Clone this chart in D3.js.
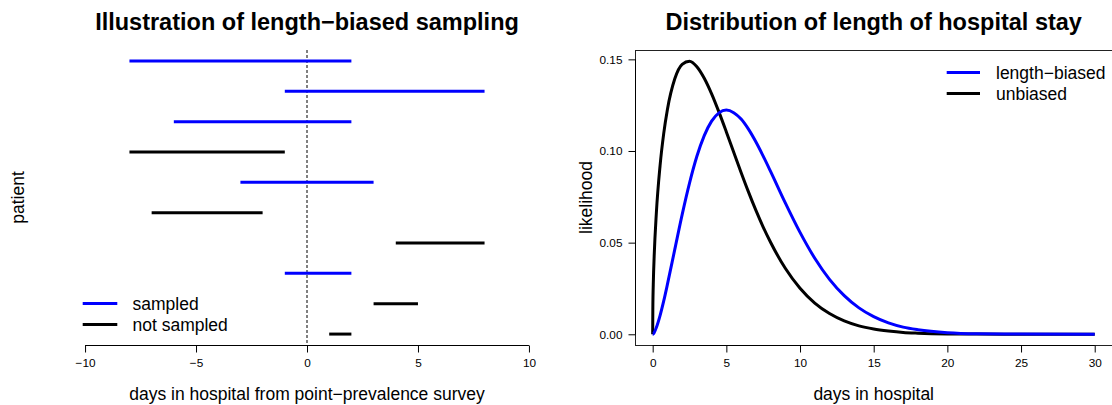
<!DOCTYPE html>
<html>
<head>
<meta charset="utf-8">
<script src="https://cdn.jsdelivr.net/npm/d3@7/dist/d3.min.js"></script>
<style>
  html, body { margin: 0; padding: 0; background: #fff; }
  svg { display: block; font-family: "Liberation Sans", Arial, Helvetica, sans-serif; }
</style>
</head>
<body>
<svg id="chart" width="1112" height="405"></svg>
<script>
// ---------- Left panel data ----------
const patients = [1, 2, 3, 4, 5, 6, 7, 8, 9, 10];
const stayStart = [-8, -1, -6, -8, -3, -7, 4, -1, 3, 1];
const stayEnd   = [ 2,  8,  2, -1,  3, -2, 8,  2, 5, 2];
const sampled   = [true, true, true, false, true, false, false, true, false, false];
const leftTicks = [-10, -5, 0, 5, 10];
const leftLegend = ["sampled", "not sampled"];

// ---------- Right panel data ----------
const days = [0, 0.01, 0.05, 0.1, 0.25, 0.5, 0.75, 1, 1.5, 2, 2.5, 3, 3.5, 4, 4.5, 5, 5.5, 6, 6.5, 7, 7.5, 8, 9, 10, 11, 12, 13, 14, 15, 16, 17, 18, 20, 22, 25, 30];
const unbiased = [0, 0.0134, 0.0300, 0.0423, 0.0663, 0.0919, 0.1096, 0.1227, 0.1394, 0.1473, 0.1490, 0.1460, 0.1397, 0.1312, 0.1212, 0.1104, 0.0993, 0.0883, 0.0777, 0.0677, 0.0585, 0.0502, 0.0360, 0.0251, 0.0170, 0.0113, 0.0073, 0.0046, 0.0029, 0.0018, 0.0010, 0.0006, 0.0002, 0.0001, 0.0000, 0.0000];
const lengthBiased = [0, 0.0000, 0.0003, 0.0009, 0.0037, 0.0102, 0.0182, 0.0272, 0.0463, 0.0653, 0.0825, 0.0971, 0.1084, 0.1163, 0.1208, 0.1223, 0.1209, 0.1174, 0.1119, 0.1050, 0.0972, 0.0889, 0.0717, 0.0556, 0.0415, 0.0300, 0.0211, 0.0144, 0.0096, 0.0062, 0.0039, 0.0025, 0.0009, 0.0003, 0.0001, 0.0000];
const rightXTicks = [0, 5, 10, 15, 20, 25, 30];
const rightYTicks = [0, 0.05, 0.10, 0.15];
const rightLegend = ["length\u2212biased", "unbiased"];

const BLUE = "#0000ff", BLACK = "#000000";
const svg = d3.select("#chart");
const fmtMinus = d => String(d).replace("-", "\u2212");

// ================= LEFT PANEL =================
const Lx = d3.scaleLinear().domain([-10.8, 10.8]).range([67.3, 546.7]);
const Ly = d3.scaleLinear().domain([0.64, 10.36]).range([50, 345]);
const left = svg.append("g");

left.append("text").attr("x", 307).attr("y", 30).attr("text-anchor", "middle")
  .attr("font-size", 23.5).attr("font-weight", "bold")
  .text("Illustration of length\u2212biased sampling");

// dashed line at 0
left.append("line")
  .attr("x1", Lx(0)).attr("x2", Lx(0)).attr("y1", 50).attr("y2", 345)
  .attr("stroke", "#000").attr("stroke-width", 1).attr("stroke-dasharray", "3,2");

left.selectAll("line.seg").data(patients).enter().append("line")
  .attr("class", "seg")
  .attr("x1", (d, i) => Lx(stayStart[i])).attr("x2", (d, i) => Lx(stayEnd[i]))
  .attr("y1", d => Ly(d)).attr("y2", d => Ly(d))
  .attr("stroke", (d, i) => sampled[i] ? BLUE : BLACK).attr("stroke-width", 3);

// x axis
const lAxis = left.append("g").attr("transform", "translate(0,345.5)")
  .call(d3.axisBottom(Lx).tickValues(leftTicks).tickSize(7).tickPadding(6).tickFormat(fmtMinus));
lAxis.select(".domain").attr("d", `M${Lx(-10)},0H${Lx(10)}`).attr("stroke", "#000");
lAxis.selectAll(".tick line").attr("stroke", "#000");
lAxis.selectAll("text").attr("font-size", 11.8).attr("fill", "#000")
  .attr("font-family", "Liberation Sans, Arial, sans-serif");

left.append("text").attr("x", 307).attr("y", 400).attr("text-anchor", "middle")
  .attr("font-size", 17.5).text("days in hospital from point\u2212prevalence survey");
left.append("text").attr("transform", "translate(23.8,197.5) rotate(-90)")
  .attr("text-anchor", "middle").attr("font-size", 17.5).text("patient");

// left legend
const lLeg = left.selectAll("g.lleg").data(leftLegend).enter().append("g")
  .attr("transform", (d, i) => `translate(0,${303.5 + i * 21})`);
lLeg.append("line").attr("x1", 82.7).attr("x2", 117.3).attr("y1", 0).attr("y2", 0)
  .attr("stroke", (d, i) => i === 0 ? BLUE : BLACK).attr("stroke-width", 3);
lLeg.append("text").attr("x", 132.5).attr("y", 0).attr("dy", "0.35em")
  .attr("font-size", 17.5).text(d => d);

// ================= RIGHT PANEL =================
const Rx = d3.scaleLinear().domain([-1.2, 31.2]).range([635, 1112.4]);
const Ry = d3.scaleLinear().domain([-0.00584, 0.1551]).range([345, 50]);
const right = svg.append("g");

right.append("text").attr("x", 873.7).attr("y", 30).attr("text-anchor", "middle")
  .attr("font-size", 23.5).attr("font-weight", "bold")
  .text("Distribution of length of hospital stay");

const line = d3.line().x(d => Rx(d[0])).y(d => Ry(d[1])).curve(d3.curveMonotoneX);
right.append("path").datum(days.map((d, i) => [d, unbiased[i]]))
  .attr("d", line).attr("fill", "none").attr("stroke", BLACK).attr("stroke-width", 3);
right.append("path").datum(days.map((d, i) => [d, lengthBiased[i]]))
  .attr("d", line).attr("fill", "none").attr("stroke", BLUE).attr("stroke-width", 3);

// box
right.append("rect").attr("x", 635.5).attr("y", 50.5).attr("width", 477).attr("height", 295)
  .attr("fill", "none").attr("stroke", "#222").attr("stroke-width", 1);

const rxAxis = right.append("g").attr("transform", "translate(0,345.5)")
  .call(d3.axisBottom(Rx).tickValues(rightXTicks).tickSize(7).tickPadding(6));
rxAxis.select(".domain").attr("d", `M${Rx(0)},0H${Rx(30)}`).attr("stroke", "#000");
rxAxis.selectAll("text").attr("font-size", 11.8).attr("fill", "#000")
  .attr("font-family", "Liberation Sans, Arial, sans-serif");

const ryAxis = right.append("g").attr("transform", "translate(635.5,0)")
  .call(d3.axisLeft(Ry).tickValues(rightYTicks).tickSize(7).tickPadding(6).tickFormat(d3.format(".2f")));
ryAxis.select(".domain").attr("d", `M0,${Ry(0)}V${Ry(0.15)}`).attr("stroke", "#000");
ryAxis.selectAll("text").attr("font-size", 11.8).attr("fill", "#000")
  .attr("font-family", "Liberation Sans, Arial, sans-serif");

right.append("text").attr("x", 873.7).attr("y", 400).attr("text-anchor", "middle")
  .attr("font-size", 17.5).text("days in hospital");
right.append("text").attr("transform", "translate(591.5,197.5) rotate(-90)")
  .attr("text-anchor", "middle").attr("font-size", 17.5).text("likelihood");

const rLeg = right.selectAll("g.rleg").data(rightLegend).enter().append("g")
  .attr("transform", (d, i) => `translate(0,${72.5 + i * 21})`);
rLeg.append("line").attr("x1", 946.7).attr("x2", 980).attr("y1", 0).attr("y2", 0)
  .attr("stroke", (d, i) => i === 0 ? BLUE : BLACK).attr("stroke-width", 3);
rLeg.append("text").attr("x", 996).attr("y", 0).attr("dy", "0.35em")
  .attr("font-size", 17.5).text(d => d);
</script>
</body>
</html>
